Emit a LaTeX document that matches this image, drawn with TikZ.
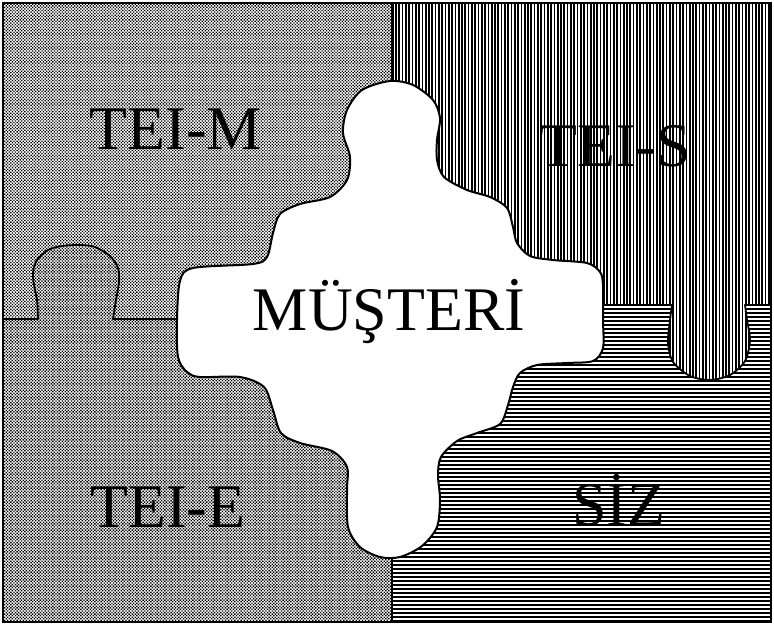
\documentclass[tikz,border=0pt]{standalone}
\usepackage{fontspec}
\setmainfont{Liberation Serif}
\usetikzlibrary{patterns.meta}
\tikzset{
	% retino a punti (tessere a sinistra)
	retinoM/.style={preaction={fill=white}, pattern={Dots[radius=0.47pt, distance=1.1pt, angle=45]}},
	retinoE/.style={preaction={fill=white}, pattern={Dots[radius=0.5pt, distance=1.1pt, angle=45]}},
	% righe verticali e orizzontali (tessere a destra)
	righeV/.style={preaction={fill=white}, pattern={Lines[angle=90, distance=1.65pt, line width=0.85pt]}},
	righeO/.style={preaction={fill=white}, pattern={Lines[angle=0, distance=2pt, line width=1.15pt]}},
	% bordi dei pezzi
	contorno/.style={line width=0.9pt, line join=round},
	cornice/.style={line width=0.8pt},
	% tessera centrale
	centro/.style={fill=white, draw=black, line width=1pt, line join=round},
	% scritte
	etichetta/.style={anchor=base, inner sep=0pt},
}

\begin{document}
\begin{tikzpicture}[x=0.5pt, y=-0.5pt, font=\fontsize{31}{37}\selectfont]
    \useasboundingbox (0,0) rectangle (774,625);

    % ---------------- quadranti ----------------
    \path[retinoM] (3,3) rectangle (392,319);
    \path[righeV] (392,3) rectangle (771,305);
    \path[retinoE] (3,319) rectangle (392,622);
    \path[righeO] (392,305) rectangle (771,622);

    % ---------------- incastri ----------------
    \path[retinoE] plot[smooth] coordinates {(38,321) (37,300) (34,285) (33,272) (37,260) (48,250) (62,246) (80,245) (95,247) (110,256) (118,268) (119,282) (116,300) (113,321)} -- cycle;
    \path[righeV] plot[smooth] coordinates {(672,303) (670,320) (668,343) (673,362) (690,376) (710,380) (730,375) (745,361) (750,340) (747,320) (745,303)} -- cycle;

    % ---------------- linee di divisione ----------------
    \draw[contorno] (3,319) -- plot[smooth] coordinates {(38,319) (37,300) (34,285) (33,272) (37,260) (48,250) (62,246) (80,245) (95,247) (110,256) (118,268) (119,282) (116,300) (113,319)} -- (392,319);
    \draw[contorno] (392,305) -- plot[smooth] coordinates {(672,305) (670,320) (668,343) (673,362) (690,376) (710,380) (730,375) (745,361) (750,340) (747,320) (745,305)} -- (771,305);
    \draw[contorno] (392,3) -- (392,622);

    % ---------------- tessera centrale ----------------
    \path[centro] plot[smooth cycle] coordinates {(390,81) (413,85) (433,100) (440,118) (437,140) (437,160) (444,177) (467,190) (490,197) (507,208) (513,227) (517,243) (530,256) (553,260) (587,263) (600,272) (603,285) (603,320) (603,348) (593,361) (567,363) (537,365) (520,373) (513,387) (508,405) (500,424) (477,433) (457,441) (441,457) (438,475) (440,500) (437,527) (422,546) (400,557) (380,557) (360,547) (348,527) (347,490) (347,467) (332,451) (300,443) (281,433) (273,410) (264,387) (240,377) (200,377) (187,372) (178,357) (177,320) (180,281) (193,268) (253,264) (267,257) (273,233) (280,214) (300,204) (330,197) (347,180) (350,157) (343,133) (347,110) (362,90)};

    \draw[cornice] (3,3) rectangle (771,622);

    % ---------------- scritte ----------------
    \node[etichetta] (teim) at (176,150) {TEI-M};
    \node[etichetta] (teis) at (615,167) {TEI-S};
    \node[etichetta] (teie) at (168,527) {TEI-E};
    \node[etichetta] (siz) at (619,525) {SİZ};
    \node[etichetta] (musteri) at (389,330) {MÜŞTERİ};
\end{tikzpicture}
\end{document}
